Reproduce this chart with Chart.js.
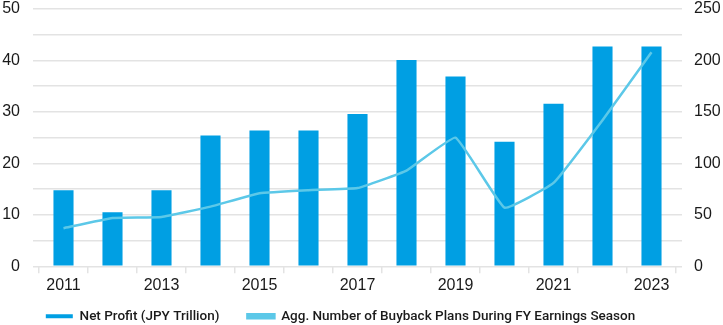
<!DOCTYPE html>
<html lang="en">
<head>
    <meta charset="UTF-8">
    <title>Net Profit and Buyback Plans</title>
    <script src="https://cdn.jsdelivr.net/npm/chart.js"></script>
</head>
<style>
    html, body {
        margin: 0;
        padding: 0;
        background: white;
    }
    .chartBox {
        width: 723px;
        height: 325px;
        position: relative;
    }
</style>
<body>
<div class="chartBox">
    <canvas id="buybackChart"></canvas>
</div>
<script>
    const years = ['2011', '2012', '2013', '2014', '2015', '2016', '2017', '2018', '2019', '2020', '2021', '2022', '2023'];
    const netProfit = [14.8, 10.5, 14.8, 25.4, 26.4, 26.4, 29.6, 40.1, 36.9, 24.2, 31.6, 42.7, 42.7];
    const buybackPlans = [37, 47, 48, 58, 71, 74, 76, 93, 125, 57, 81, 142, 208];
    const leftTicks = [0, 10, 20, 30, 40, 50];
    const rightTicks = [0, 50, 100, 150, 200, 250];

    const gridColor = '#e3e3e3';
    const tickFont = { family: "'Liberation Sans', Arial, sans-serif", size: 16 };

    // y axes: fixed widths, and only half a label of room above the plot
    function fitAxis(width) {
        return function (scale) {
            scale.width = width;
            scale.paddingTop = 9;
            scale.paddingBottom = 0;
        };
    }

    // legend sits a bit higher and further left than chart.js puts it
    const legendNudge = {
        id: 'legendNudge',
        afterLayout(chart) {
            const lg = chart.legend;
            lg.top -= 17;
            lg.bottom -= 17;
            lg.left -= 21;
            lg.right -= 21;
        }
    };

    document.addEventListener("DOMContentLoaded", function () {
        const ctx = document.getElementById('buybackChart').getContext('2d');

        new Chart(ctx, {
            type: 'bar',
            data: {
                labels: years,
                datasets: [{
                    label: 'Net Profit (JPY Trillion)',
                    data: netProfit,
                    backgroundColor: '#009fe3',
                    borderWidth: 0,
                    categoryPercentage: 1,
                    barPercentage: 0.41,
                    yAxisID: 'y',
                    order: 1
                }, {
                    type: 'line',
                    label: 'Agg. Number of Buyback Plans During FY Earnings Season',
                    data: buybackPlans,
                    borderColor: '#5cc8e8',
                    backgroundColor: '#5cc8e8',
                    borderWidth: 2.5,
                    pointRadius: 0,
                    tension: 0.1,
                    yAxisID: 'y1',
                    order: 0
                }]
            },
            options: {
                responsive: true,
                maintainAspectRatio: false,
                animation: false,
                layout: {
                    padding: { top: 0, left: 2, right: 2, bottom: -25 }
                },
                scales: {
                    x: {
                        grid: {
                            offset: true,
                            drawOnChartArea: false,
                            color: gridColor,
                            lineWidth: 1.5,
                            tickLength: 7
                        },
                        border: { display: false },
                        ticks: {
                            autoSkip: false,
                            maxRotation: 0,
                            padding: 3,
                            color: '#1a1a1a',
                            font: tickFont,
                            callback: function (value, index) {
                                return index % 2 === 0 ? years[index] : '';
                            }
                        },
                        afterFit: function (scale) {
                            scale.paddingLeft = 0;
                            scale.paddingRight = 0;
                        }
                    },
                    y: {
                        position: 'left',
                        min: 0,
                        max: 50,
                        grid: {
                            color: gridColor,
                            lineWidth: 1.5,
                            tickLength: 6
                        },
                        border: { display: false },
                        ticks: {
                            stepSize: 5,
                            padding: 13,
                            color: '#1a1a1a',
                            font: tickFont,
                            callback: function (value) {
                                return leftTicks.includes(value) ? value : '';
                            }
                        },
                        afterFit: fitAxis(37)
                    },
                    y1: {
                        position: 'right',
                        min: 0,
                        max: 250,
                        grid: {
                            drawOnChartArea: false,
                            color: gridColor,
                            lineWidth: 1.5,
                            tickLength: 6
                        },
                        border: { display: false },
                        ticks: {
                            stepSize: 25,
                            padding: 12,
                            color: '#1a1a1a',
                            font: tickFont,
                            callback: function (value) {
                                return rightTicks.includes(value) ? value : '';
                            }
                        },
                        afterFit: fitAxis(45)
                    }
                },
                plugins: {
                    legend: {
                        position: 'bottom',
                        labels: {
                            boxWidth: 27,
                            boxHeight: 4,
                            padding: 28,
                            color: '#1a1a1a',
                            font: { family: "Roboto, 'Liberation Sans', Arial, sans-serif", size: 13.5, weight: '500' },
                            sort: (a, b) => a.datasetIndex - b.datasetIndex
                        }
                    },
                    tooltip: { enabled: false }
                }
            },
            plugins: [legendNudge]
        });
    });
</script>
</body>
</html>
